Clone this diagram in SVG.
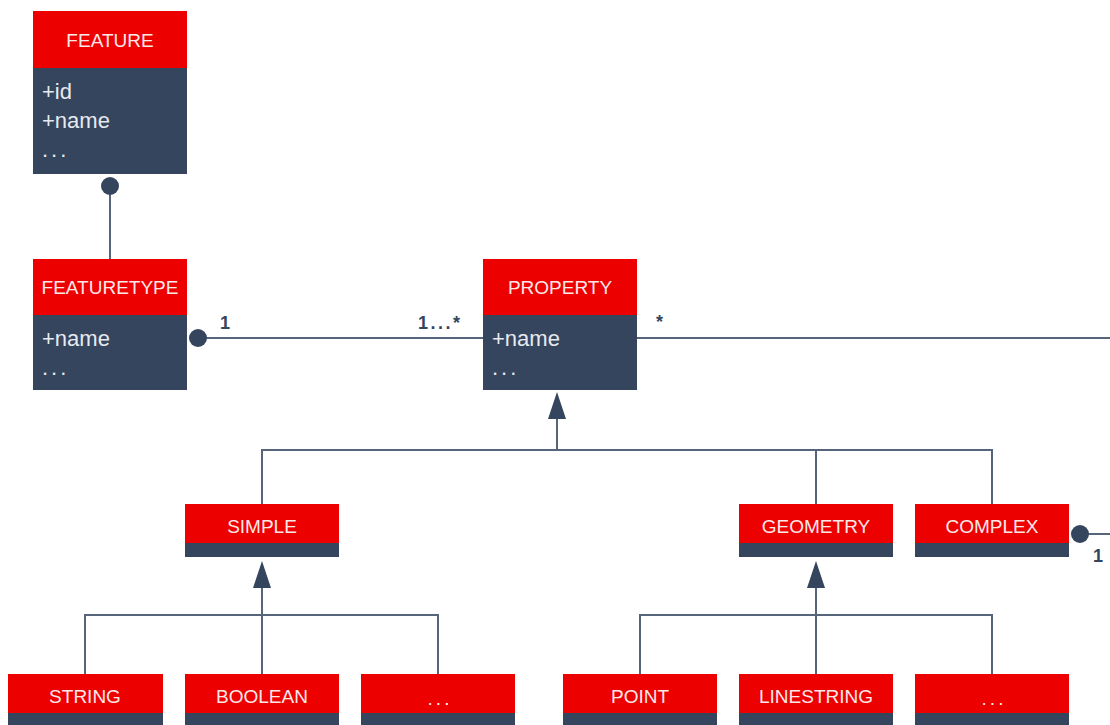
<svg xmlns="http://www.w3.org/2000/svg" width="1110" height="725" viewBox="0 0 1110 725">
  <defs>
    <style>
      .hd { fill: #ec0000; }
      .bd { fill: #35455d; }
      .title { font-family: "Liberation Sans", Arial, sans-serif; font-size: 19px; fill: #fde8e8; text-anchor: middle; }
      .attr { font-family: "Liberation Sans", Arial, sans-serif; font-size: 22px; fill: #e6eaf0; }
      .dots { letter-spacing: 3px; }
      .mult { font-family: "Liberation Sans", Arial, sans-serif; font-size: 18px; font-weight: bold; fill: #35455d; }
      .ln { stroke: #56657a; stroke-width: 2; fill: none; }
      .dot { fill: #35455d; }
      .tri { fill: #35455d; }
    </style>
  </defs>
  <rect width="1110" height="725" fill="#ffffff"/>

  <!-- connectors -->
  <g id="connectors">
    <!-- FEATURE composition FEATURETYPE -->
    <line class="ln" x1="110" y1="186" x2="110" y2="259"/>
    <circle class="dot" cx="110" cy="186" r="9"/>
    <!-- FEATURETYPE to PROPERTY -->
    <line class="ln" x1="198" y1="338" x2="483" y2="338"/>
    <circle class="dot" cx="198" cy="338" r="9"/>
    <text class="mult" x="220" y="329">1</text>
    <text class="mult" x="418" y="329" letter-spacing="2.5">1...*</text>
    <!-- PROPERTY outgoing -->
    <line class="ln" x1="637" y1="338" x2="1110" y2="338"/>
    <text class="mult" x="656" y="328">*</text>
    <!-- PROPERTY generalisation tree -->
    <polygon class="tri" points="557,392 548,419 566,419"/>
    <polyline class="ln" points="557,419 557,450"/>
    <polyline class="ln" points="262,504 262,450 992,450 992,504"/>
    <line class="ln" x1="816" y1="450" x2="816" y2="504"/>
    <!-- SIMPLE generalisation tree -->
    <polygon class="tri" points="262,561 253,588 271,588"/>
    <line class="ln" x1="262" y1="588" x2="262" y2="674"/>
    <polyline class="ln" points="85,674 85,615 438,615 438,674"/>
    <!-- GEOMETRY generalisation tree -->
    <polygon class="tri" points="816,561 807,588 825,588"/>
    <line class="ln" x1="816" y1="588" x2="816" y2="674"/>
    <polyline class="ln" points="640,674 640,615 992,615 992,674"/>
    <!-- COMPLEX outgoing -->
    <line class="ln" x1="1080" y1="534" x2="1110" y2="534"/>
    <circle class="dot" cx="1080" cy="534" r="9"/>
    <text class="mult" x="1093" y="562">1</text>
  </g>

  <g id="feature">
    <rect class="hd" x="33" y="11" width="154" height="57"/>
    <rect class="bd" x="33" y="68" width="154" height="106"/>
    <text class="title" x="110" y="47">FEATURE</text>
    <text class="attr" x="42" y="99">+id</text>
    <text class="attr" x="42" y="128">+name</text>
    <text class="attr dots" x="42" y="157">...</text>
  </g>

  <g id="featuretype">
    <rect class="hd" x="33" y="259" width="154" height="56"/>
    <rect class="bd" x="33" y="315" width="154" height="75"/>
    <text class="title" x="110" y="294">FEATURETYPE</text>
    <text class="attr" x="42" y="346">+name</text>
    <text class="attr dots" x="42" y="375">...</text>
  </g>

  <g id="property">
    <rect class="hd" x="483" y="259" width="154" height="56"/>
    <rect class="bd" x="483" y="315" width="154" height="75"/>
    <text class="title" x="560" y="294">PROPERTY</text>
    <text class="attr" x="492" y="346">+name</text>
    <text class="attr dots" x="492" y="375">...</text>
  </g>

  <g id="simple">
    <rect class="hd" x="185" y="504" width="154" height="39"/>
    <rect class="bd" x="185" y="543" width="154" height="14"/>
    <text class="title" x="262" y="533">SIMPLE</text>
  </g>

  <g id="geometry">
    <rect class="hd" x="739" y="504" width="154" height="39"/>
    <rect class="bd" x="739" y="543" width="154" height="14"/>
    <text class="title" x="816" y="533">GEOMETRY</text>
  </g>

  <g id="complex">
    <rect class="hd" x="915" y="504" width="154" height="39"/>
    <rect class="bd" x="915" y="543" width="154" height="14"/>
    <text class="title" x="992" y="533">COMPLEX</text>
  </g>

  <g id="string">
    <rect class="hd" x="8" y="674" width="155" height="39"/>
    <rect class="bd" x="8" y="713" width="155" height="12"/>
    <text class="title" x="85" y="703">STRING</text>
  </g>

  <g id="boolean">
    <rect class="hd" x="185" y="674" width="154" height="39"/>
    <rect class="bd" x="185" y="713" width="154" height="12"/>
    <text class="title" x="262" y="703">BOOLEAN</text>
  </g>

  <g id="simple-more">
    <rect class="hd" x="361" y="674" width="154" height="39"/>
    <rect class="bd" x="361" y="713" width="154" height="12"/>
    <text class="title dots" x="440" y="705">...</text>
  </g>

  <g id="point">
    <rect class="hd" x="563" y="674" width="154" height="39"/>
    <rect class="bd" x="563" y="713" width="154" height="12"/>
    <text class="title" x="640" y="703">POINT</text>
  </g>

  <g id="linestring">
    <rect class="hd" x="739" y="674" width="154" height="39"/>
    <rect class="bd" x="739" y="713" width="154" height="12"/>
    <text class="title" x="816" y="703">LINESTRING</text>
  </g>

  <g id="geometry-more">
    <rect class="hd" x="915" y="674" width="154" height="39"/>
    <rect class="bd" x="915" y="713" width="154" height="12"/>
    <text class="title dots" x="994" y="705">...</text>
  </g>
</svg>
